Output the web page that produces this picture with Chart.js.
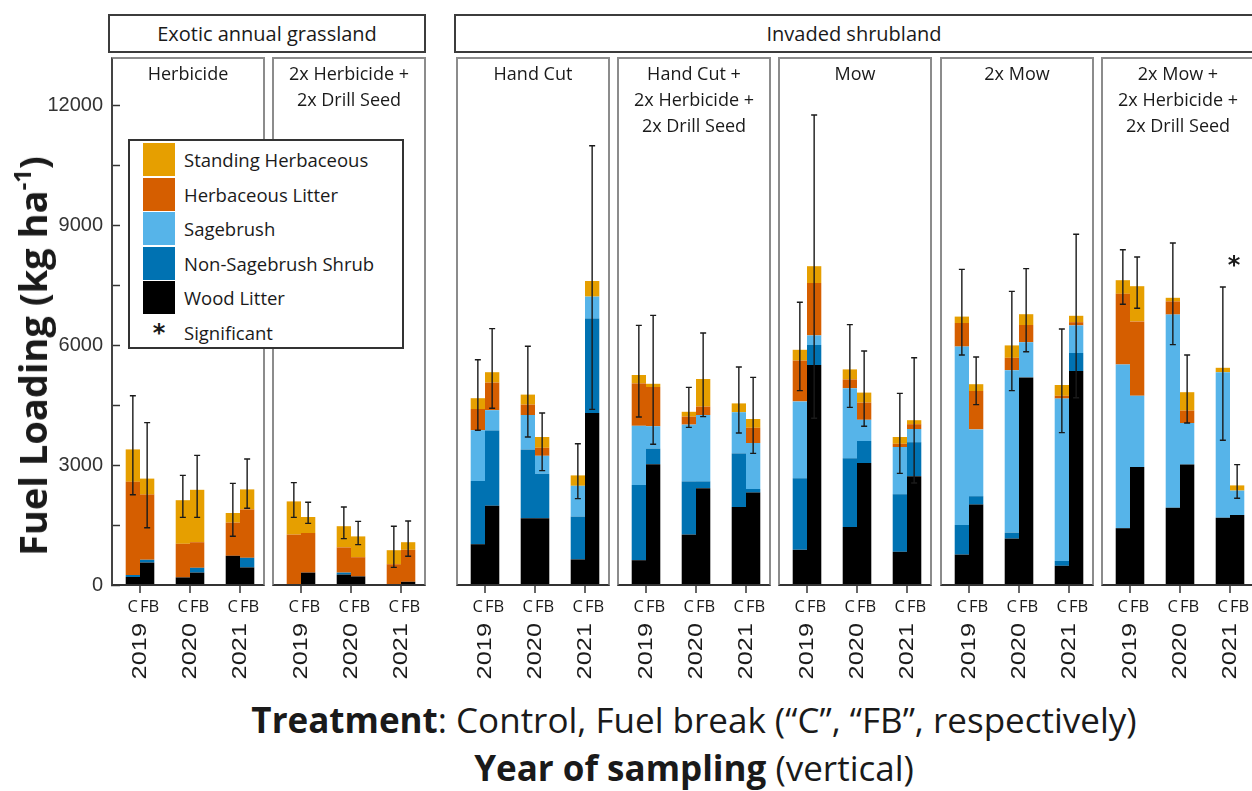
<!DOCTYPE html>
<html><head><meta charset="utf-8">
<script src="https://cdn.jsdelivr.net/npm/chart.js@4.4.1/dist/chart.umd.min.js"></script>
<style>
html,body{margin:0;padding:0;background:#fff;width:1252px;height:791px;overflow:hidden;}
body{position:relative;font-family:'Open Sans',sans-serif;color:#1a1a1a;}
canvas{position:absolute;top:0;z-index:1;}
.frame{position:absolute;box-sizing:border-box;border:2px solid #8c8c8c;border-bottom-color:#333;z-index:2;pointer-events:none;}
.strip{position:absolute;box-sizing:border-box;border:2px solid #3c3c3c;top:14px;height:39px;font-size:20px;line-height:35px;text-align:center;background:#fff;white-space:nowrap;overflow:hidden;}
.ptitle{position:absolute;top:60px;font-size:18px;line-height:26px;text-align:center;z-index:3;white-space:nowrap;}
#legend{position:absolute;left:128px;top:139px;width:276px;height:210px;box-sizing:border-box;border:2px solid #333;background:#fff;z-index:4;}
.lrow{position:absolute;left:13px;height:33px;display:flex;align-items:center;font-size:18.5px;white-space:nowrap;}
.sw{width:32px;height:33px;margin-right:9px;}
#ytitle{position:absolute;left:32px;top:356px;transform:translate(-50%,-50%) rotate(-90deg);font-weight:bold;font-size:38px;white-space:nowrap;z-index:3;}
#ytitle sup{font-size:24px;vertical-align:0;position:relative;top:-16px;}
.btitle{position:absolute;left:694px;transform:translateX(-50%);font-size:35px;white-space:nowrap;line-height:40px;}
</style></head>
<body>
<div id="ytitle">Fuel Loading (kg ha<sup>-1</sup>)</div>
<div class="btitle" style="top:700px;"><b>Treatment</b>: Control, Fuel break (“C”, “FB”, respectively)</div>
<div class="btitle" style="top:748px;"><b>Year of sampling</b> (vertical)</div>
<div id="legend"></div>
<script>
// ---------- data ----------
const years = ['2019', '2020', '2021'];
const treatments = ['C', 'FB'];
const groupNames = ['Exotic annual grassland', 'Invaded shrubland'];
const panelGroup = [0, 0, 1, 1, 1, 1, 1];
const panelTitles = [
  ['Herbicide'],
  ['2x Herbicide +', '2x Drill Seed'],
  ['Hand Cut'],
  ['Hand Cut +', '2x Herbicide +', '2x Drill Seed'],
  ['Mow'],
  ['2x Mow'],
  ['2x Mow +', '2x Herbicide +', '2x Drill Seed']
];
const components = ['Wood Litter', 'Non-Sagebrush Shrub', 'Sagebrush', 'Herbaceous Litter', 'Standing Herbaceous'];
const yTickValues = [0, 3000, 6000, 9000, 12000];

// segment values, 7 panels x 3 years (kg/ha)
const woodC    = [200, 190, 730,   0, 260,   0, 1020, 1670,  640,  620, 1260, 1950,  880, 1450,  830,  760, 1160,  480, 1420, 1930, 1680];
const nsC      = [ 50,   0,   0,   0,  50,   0, 1580, 1720, 1070, 1880, 1330, 1340, 1790, 1720, 1440,  740,  150,  120,    0,    0,    0];
const sageC    = [  0,   0,   0,   0,   0,   0, 1270,  860,  770, 1480, 1420, 1030, 1920, 1750, 1180, 4460, 4060, 4060, 4090, 4830, 3640];
const litterC  = [2330, 840, 830, 1260, 630, 520,  530,  260,    0, 1060,  200,    0, 1020,  220,   80,  590,  310,   70, 1770,  330,    0];
const standC   = [810, 1090, 240, 830, 530, 350,  270,  250,  260,  210,  120,  220,  270,  250,  170,  160,  310,  270,  340,   90,  110];

const woodFB   = [560, 310, 440, 310, 215,  80, 1980, 1670, 4300, 3020, 2420, 2310, 5500, 3050, 2720, 2010, 5190, 5350, 2950, 3010, 1750];
const nsFB     = [ 70, 120, 240,   0,   0,   0, 1880, 1110, 2360,  390,  170,   90,  500,  550,  850,  210,    0,  450,    0,    0,    0];
const sageFB   = [  0,   0,   0,   0,   0,   0,  510,  450,  550,  560, 1660, 1150,  240,  530,  330, 1670,  880,  690, 1780, 1040,  610];
const litterFB = [1630, 640, 1210, 990, 480, 800,  690,  200,    0,  980,  210,  380, 1310,  430,  120,  960,  430,   80, 1860,  310,    0];
const standFB  = [400, 1310, 500, 400, 520, 190,  260,  270,  390,   80,  690,  220,  420,  250,  100,  170,  270,  160,  880,  460,  130];

// error bar limits
const errLoC  = [2255, 1690, 1220, 1690, 1160,  440, 3870, 3700, 2160, 4200, 3940, 3800, 4860, 4440, 2790, 5750, 4860, 3810, 7020, 6010, 3620];
const errHiC  = [4730, 2740, 2540, 2560, 1950, 1470, 5630, 5970, 3530, 6490, 4940, 5450, 7070, 6510, 4790, 7890, 7340, 6400, 8380, 8550, 7450];
const errLoFB = [1430, 1690, 1920, 1540, 1010,  720, 4420, 2860, 4390, 3520, 4210, 3290, 4170, 3970, 2550, 4510, 5830, 4680, 6920, 4050, 2170];
const errHiFB = [4060, 3240, 3150, 2070, 1590, 1600, 6410, 4300, 10980, 6740, 6300, 5190, 11750, 5850, 5680, 5700, 7910, 8770, 8200, 5750, 3010];

const significant = [0,0,0, 0,0,0, 0,0,0, 0,0,0, 0,0,0, 0,0,0, 0,0,1];

// ---------- styles / layout ----------
const compColors = ['#000000', '#0072B2', '#56B4E9', '#D55E00', '#E69F00'];
const panelLefts = [111, 272, 456, 617, 778, 940, 1101];
const PANEL_W = 154, TOP = 57, BASE = 585, CH = 700, Y_MAX = 13200;
const Y_AXIS_W = 115;

const segC = [woodC, nsC, sageC, litterC, standC];
const segFB = [woodFB, nsFB, sageFB, litterFB, standFB];

// strips
const stripDefs = [[108, 318], [454, 800]];
groupNames.forEach((g, i) => {
  const d = document.createElement('div');
  d.className = 'strip';
  d.style.left = stripDefs[i][0] + 'px';
  d.style.width = stripDefs[i][1] + 'px';
  d.textContent = g;
  document.body.appendChild(d);
});

// legend
const legend = document.getElementById('legend');
const legendOrder = [4, 3, 2, 1, 0];
legendOrder.forEach((ci, r) => {
  const row = document.createElement('div');
  row.className = 'lrow';
  row.style.top = (2 + r * 34.6) + 'px';
  const sw = document.createElement('div');
  sw.className = 'sw';
  sw.style.background = compColors[ci];
  row.appendChild(sw);
  const t = document.createElement('span');
  t.textContent = components[ci];
  row.appendChild(t);
  legend.appendChild(row);
});
{
  const row = document.createElement('div');
  row.className = 'lrow';
  row.style.top = (2 + 5 * 34.6) + 'px';
  row.innerHTML = '<span style="width:32px;margin-right:9px;text-align:center;font-weight:bold;font-size:24px;font-family:\'DejaVu Sans\'">*</span><span>Significant</span>';
  legend.appendChild(row);
}

const facetPlugin = {
  id: 'facet',
  afterDatasetsDraw(chart, args, opts) {
    const { ctx, chartArea } = chart;
    const x = chart.scales.x, y = chart.scales.y;
    ctx.save();
    // error bars
    ctx.strokeStyle = '#1a1a1a';
    ctx.lineWidth = 1.4;
    [4, 9].forEach((di, t) => {
      const meta = chart.getDatasetMeta(di);
      meta.data.forEach((bar, j) => {
        const lo = y.getPixelForValue(opts.errLo[t][j]);
        const hi = y.getPixelForValue(opts.errHi[t][j]);
        ctx.beginPath();
        ctx.moveTo(bar.x, lo); ctx.lineTo(bar.x, hi);
        ctx.moveTo(bar.x - 3, lo); ctx.lineTo(bar.x + 3, lo);
        ctx.moveTo(bar.x - 3, hi); ctx.lineTo(bar.x + 3, hi);
        ctx.stroke();
      });
    });
    // inward y ticks (major + minor halfway)
    if (opts.yTicks) {
      ctx.strokeStyle = '#333';
      ctx.lineWidth = 1.5;
      const vals = [];
      yTickValues.forEach((v, k) => {
        vals.push(v);
        if (k < yTickValues.length - 1) vals.push((v + yTickValues[k + 1]) / 2);
      });
      vals.forEach(v => {
        const py = Math.round(y.getPixelForValue(v)) + 0.5;
        ctx.beginPath();
        ctx.moveTo(chartArea.left - 4, py); ctx.lineTo(chartArea.left + 5, py);
        ctx.stroke();
      });
    }
    // x ticks and labels
    years.forEach((yr, j) => {
      const cx = x.getPixelForValue(j);
      ctx.strokeStyle = '#333';
      ctx.lineWidth = 1.5;
      ctx.beginPath();
      ctx.moveTo(cx, BASE); ctx.lineTo(cx, BASE + 8);
      ctx.stroke();
      ctx.fillStyle = '#1a1a1a';
      ctx.font = '16.5px "Open Sans"';
      ctx.textBaseline = 'middle';
      ctx.textAlign = 'right';
      ctx.fillText(treatments[0], cx - 2, 607);
      ctx.textAlign = 'left';
      ctx.fillText(treatments[1], cx, 607);
      ctx.save();
      ctx.translate(cx + 1, 623);
      ctx.rotate(-Math.PI / 2);
      ctx.scale(1.3, 1);
      ctx.font = '19.5px "Liberation Sans"';
      ctx.textAlign = 'right';
      ctx.textBaseline = 'middle';
      ctx.fillText(yr, 0, 0);
      ctx.restore();
      if (opts.sig[j]) {
        const py = y.getPixelForValue(Math.max(opts.errHi[0][j], opts.errHi[1][j])) - 20;
        ctx.font = 'bold 24px "DejaVu Sans"';
        ctx.textAlign = 'center';
        ctx.textBaseline = 'middle';
        ctx.fillText('*', cx + 4, py);
      }
    });
    ctx.restore();
  }
};

panelTitles.forEach((title, p) => {
  const i0 = p * 3, i1 = i0 + 3;
  const first = p === 0;
  // frame
  const fr = document.createElement('div');
  fr.className = 'frame';
  fr.style.left = panelLefts[p] + 'px';
  fr.style.top = TOP + 'px';
  fr.style.width = PANEL_W + 'px';
  fr.style.height = (BASE + 1 - TOP) + 'px';
  if (first) fr.style.borderLeftColor = '#444';
  document.body.appendChild(fr);
  // title
  const tt = document.createElement('div');
  tt.className = 'ptitle';
  tt.style.left = panelLefts[p] + 'px';
  tt.style.width = PANEL_W + 'px';
  tt.innerHTML = title.join('<br>');
  document.body.appendChild(tt);
  // canvas
  const cv = document.createElement('canvas');
  const left = first ? 0 : panelLefts[p];
  const w = first ? panelLefts[p] + PANEL_W : PANEL_W;
  cv.width = w; cv.height = CH;
  cv.style.left = left + 'px';
  cv.style.width = w + 'px'; cv.style.height = CH + 'px';
  document.body.appendChild(cv);

  const datasets = [];
  [segC, segFB].forEach((seg, t) => {
    seg.forEach((arr, ci) => {
      datasets.push({
        label: treatments[t] + ' ' + components[ci],
        data: arr.slice(i0, i1),
        backgroundColor: compColors[ci],
        borderWidth: 0,
        stack: treatments[t],
        barPercentage: 1.0,
        categoryPercentage: 0.572
      });
    });
  });

  const yScale = {
    type: 'linear',
    stacked: true,
    min: 0, max: Y_MAX,
    display: first,
    position: 'left',
    border: { display: false },
    grid: { display: false, drawTicks: false },
    afterBuildTicks: (scale) => {
      scale.ticks = yTickValues.map(v => ({ value: v }));
    },
    ticks: {
      autoSkip: false,
      padding: 12,
      color: '#333',
      font: { family: 'Liberation Sans', size: 20 },
      callback: (v) => String(v)
    }
  };
  if (first) {
    yScale.afterFit = (scale) => {
      scale.width = Y_AXIS_W;
      scale.paddingTop = 0;
      scale.paddingBottom = 0;
    };
  }

  new Chart(cv, {
    type: 'bar',
    data: { labels: years, datasets },
    plugins: [facetPlugin],
    options: {
      responsive: false,
      animation: false,
      devicePixelRatio: 1,
      layout: { padding: { left: first ? 0 : 4, right: 0, top: TOP, bottom: CH - BASE } },
      plugins: {
        legend: { display: false },
        tooltip: { enabled: false },
        facet: {
          errLo: [errLoC.slice(i0, i1), errLoFB.slice(i0, i1)],
          errHi: [errHiC.slice(i0, i1), errHiFB.slice(i0, i1)],
          sig: significant.slice(i0, i1),
          yTicks: first
        }
      },
      scales: {
        x: { type: 'category', stacked: true, display: false, offset: true },
        y: yScale
      }
    }
  });
});
</script>
</body></html>
